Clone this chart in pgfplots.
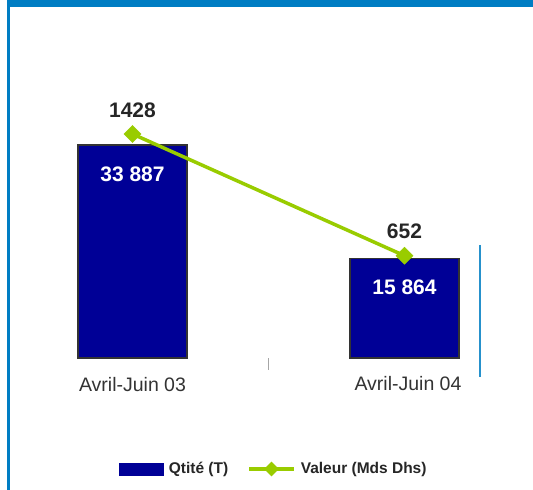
\documentclass[border=0pt]{standalone}
\usepackage{pgfplots}
\pgfplotsset{compat=1.18}
\usepackage{fontspec}
\setmainfont{Liberation Sans}
\definecolor{navy}{RGB}{0,0,150}
\definecolor{lime}{RGB}{153,204,0}
\definecolor{frameblue}{RGB}{0,125,195}
\begin{document}
\begin{tikzpicture}[x=1pt,y=1pt]
\useasboundingbox (0,0) rectangle (533,490);
\fill[white] (0,0) rectangle (533,490);
\fill[frameblue] (7,482.5) rectangle (533,490);
\fill[frameblue] (7,0) rectangle (9.5,490);
\draw[frameblue!85, line width=1.2pt] (480,245) -- (480,113);
\begin{axis}[
  at={(64.5pt,132pt)}, anchor=south west,
  scale only axis, width=408pt, height=328pt,
  xmin=-0.25, xmax=1.25, ymin=0, ymax=52183,
  axis x line*=bottom, axis y line=none,
  x axis line style={draw=none},
  xtick={0.5}, xticklabels={},
  major tick length=12pt, tick align=center,
  xtick style={draw=gray!70, line width=1pt},
  ybar, bar width=109pt, bar shift=0pt,
  clip=false,
  nodes near coords, point meta=explicit symbolic,
  every node near coord/.append style={font=\fontsize{21}{24}\selectfont\bfseries, text=white, anchor=center, yshift=-29pt},
]
\addplot[fill=navy, draw=black!80, line width=1.5pt] coordinates {(0,33887) [33 887] (1,15864) [15 864]};
\node[font=\fontsize{19.5}{22}\selectfont, text=black!80] at (axis cs:0,0) [yshift=-27pt] {Avril-Juin 03};
\node[font=\fontsize{19.5}{22}\selectfont, text=black!80] at (axis cs:1,0) [yshift=-26pt, xshift=3.5pt] {Avril-Juin 04};
\end{axis}
\begin{axis}[
  at={(64.5pt,132pt)}, anchor=south west,
  scale only axis, width=408pt, height=328pt,
  xmin=-0.25, xmax=1.25, ymin=0, ymax=2091,
  axis lines=none, clip=false,
  legend style={at={(0.5172,-0.3384)}, anchor=center, draw=none, fill=none,
    font=\fontsize{15.5}{18}\selectfont\bfseries, text=black!85,
    legend columns=2, /tikz/every even column/.append style={column sep=14pt},
    nodes={inner xsep=5pt}},
]
\addlegendimage{legend image code/.code={\fill[navy] (0pt,-6pt) rectangle (44pt,6pt);}}
\addlegendentry{Qtité (T)}
\addplot[lime, line width=3.5pt, mark=square*, mark size=6pt,
  mark options={rotate=45, fill=lime, draw=lime, line width=0.5pt},
  nodes near coords, point meta=explicit symbolic,
  every node near coord/.append style={font=\fontsize{21}{24}\selectfont\bfseries, text=black!85, anchor=center, yshift=24pt},
  legend image code/.code={\draw[lime, line width=3.5pt] (0pt,0pt) -- (45pt,0pt); \fill[lime, rotate around={45:(22.5pt,0pt)}] (19pt,-3.5pt) rectangle (26pt,3.5pt);}
] coordinates {(0,1428) [1428] (1,652) [652]};
\addlegendentry{Valeur (Mds Dhs)}
\end{axis}
\end{tikzpicture}
\end{document}
